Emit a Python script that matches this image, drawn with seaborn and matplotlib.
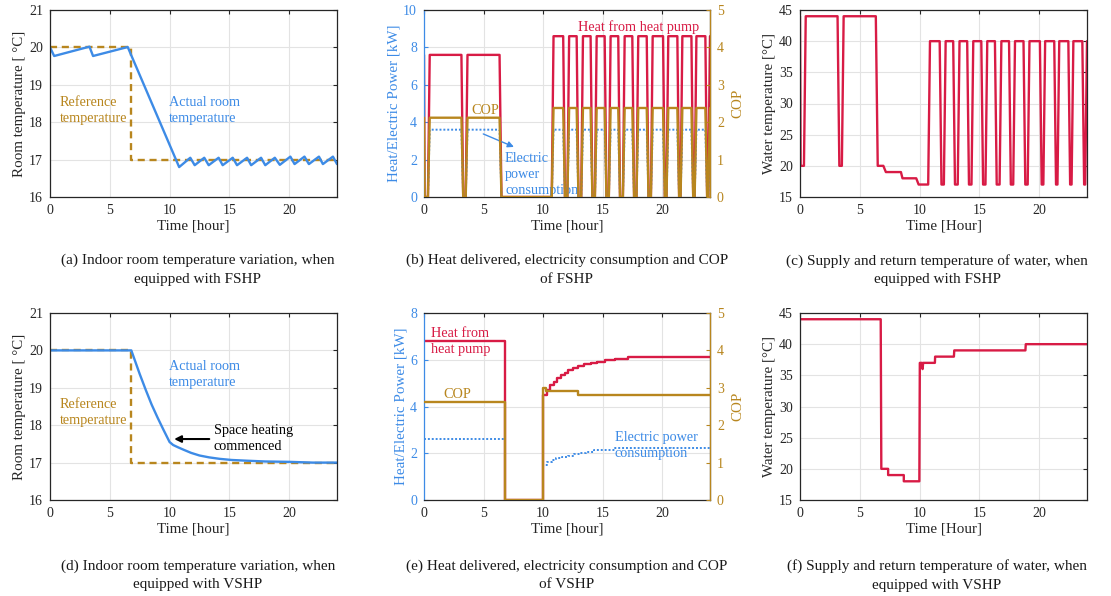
import matplotlib
matplotlib.use("Agg")
import matplotlib.pyplot as plt
import seaborn as sns

# ---------------- data ----------------
hours_ticks = [0, 5, 10, 15, 20]

# (a) FSHP room temperature
t_room_fshp = [0.0, 0.35, 3.3, 3.6, 6.5, 10.8, 11.73, 12.1, 12.9, 13.27, 14.1, 14.44, 15.28, 15.64,
               16.48, 16.82, 17.65, 18.0, 18.8, 19.22, 20.1, 20.45, 21.28, 21.65, 22.49, 22.82,
               23.66, 24.0]
v_room_fshp = [20.0, 19.77, 20.02, 19.77, 20.01, 16.8, 17.05, 16.85, 17.05, 16.85, 17.05, 16.85,
               17.05, 16.85, 17.05, 16.85, 17.05, 16.85, 17.05, 16.86, 17.08, 16.88, 17.08, 16.88,
               17.08, 16.88, 17.08, 16.88]
t_ref = [0.0, 6.75, 6.75, 24.0]
v_ref = [20.0, 20.0, 17.0, 17.0]

# (b)/(c) FSHP time base (corner points)
t_fshp = [0.0, 0.05, 0.33, 0.48, 3.14, 3.29, 3.5, 3.65, 6.34, 6.5, 6.97, 7.18, 8.44, 8.57,
          9.72, 9.92, 10.72, 10.87,
          11.68, 11.83, 12.03, 12.18,
          12.81, 12.96, 13.19, 13.34,
          13.98, 14.13, 14.34, 14.49,
          15.16, 15.31, 15.51, 15.66,
          16.30, 16.45, 16.69, 16.84,
          17.48, 17.63, 17.83, 17.98,
          18.69, 18.84, 19.04, 19.19,
          20.06, 20.21, 20.35, 20.50,
          21.26, 21.41, 21.53, 21.68,
          22.44, 22.59, 22.71, 22.86,
          23.61, 23.76, 23.85, 24.0]
heat_fshp = [7.6, 0, 0, 7.6, 7.6, 0, 0, 7.6, 7.6, 0, 0, 0, 0, 0, 0, 0, 0, 8.6] + \
            [8.6, 0, 0, 8.6] * 11
cop_fshp = [2.12, 0, 0, 2.12, 2.12, 0, 0, 2.12, 2.12, 0, 0, 0, 0, 0, 0, 0, 0, 2.38] + \
           [2.38, 0, 0, 2.38] * 11
elec_fshp = [3.6, 0, 0, 3.6, 3.6, 0, 0, 3.6, 3.6, 0, 0, 0, 0, 0, 0, 0, 0, 3.6] + \
            [3.6, 0, 0, 3.6] * 11
water_fshp = [44, 20, 20, 44, 44, 20, 20, 44, 44, 20, 20, 19, 19, 18, 18, 17, 17, 40] + \
             [40, 17, 17, 40] * 11

# (d) VSHP room temperature
t_room_vshp = [0.0, 6.8, 7.0, 7.5, 8.0, 8.5, 9.0, 9.5, 10.0, 10.3, 10.7, 11.2, 11.8, 12.5, 13.3,
               14.2, 15.2, 16.5, 18.0, 20.0, 22.0, 24.0]
v_room_vshp = [20.0, 20.0, 19.82, 19.37, 18.95, 18.55, 18.2, 17.87, 17.55, 17.47, 17.41, 17.34,
               17.26, 17.19, 17.14, 17.1, 17.07, 17.05, 17.03, 17.02, 17.0, 17.0]

# (e) VSHP heat / COP / electric power (step values)
t_heat_vshp = [0.0, 6.78, 10.02, 10.3, 10.6, 10.9, 11.2, 11.5, 11.8, 12.1, 12.5, 12.9, 13.4,
               14.0, 14.5, 15.2, 16.0, 17.1, 24.0]
heat_vshp = [6.8, 0.0, 4.5, 4.7, 4.9, 5.05, 5.2, 5.33, 5.45, 5.55, 5.63, 5.72, 5.8, 5.87, 5.9,
             5.97, 6.02, 6.1, 6.1]
t_cop_vshp = [0.0, 6.78, 10.02, 10.2, 12.95, 24.0]
cop_vshp = [2.61, 0.0, 3.0, 2.92, 2.8, 2.8]
t_elec_vshp = [0.0, 6.78, 10.02, 10.3, 10.7, 11.1, 11.6, 12.1, 12.6, 13.1, 13.6, 14.3, 16.0, 24.0]
elec_vshp = [2.62, 0.0, 1.5, 1.62, 1.72, 1.8, 1.85, 1.9, 1.95, 2.0, 2.07, 2.12, 2.22, 2.22]

# (f) VSHP water temperature
t_water_vshp = [0.0, 6.75, 6.8, 7.37, 7.37, 8.68, 8.68, 9.98, 10.02, 10.2, 10.25, 10.3, 11.28,
                11.3, 12.87, 12.9, 18.85, 18.88, 24.0]
water_vshp = [44, 44, 20, 20, 19, 19, 18, 18, 37, 37, 36, 37, 37, 38, 38, 39, 39, 40, 40]

captions = [
    "(a) Indoor room temperature variation, when\nequipped with FSHP",
    "(b) Heat delivered, electricity consumption and COP\nof FSHP",
    "(c) Supply and return temperature of water, when\nequipped with FSHP",
    "(d) Indoor room temperature variation, when\nequipped with VSHP",
    "(e) Heat delivered, electricity consumption and COP\nof VSHP",
    "(f) Supply and return temperature of water, when\nequipped with VSHP",
]

# ---------------- style ----------------
BLUE = "#3D8BE6"
GOLD = "#B8861E"
RED = "#D81B45"
GRID = "#E3E3E3"

sns.set_theme(style="whitegrid", rc={
    "axes.edgecolor": "#262626", "axes.linewidth": 0.9, "grid.color": GRID,
    "grid.linewidth": 0.8, "xtick.direction": "in", "ytick.direction": "in",
    "xtick.major.size": 3, "ytick.major.size": 3, "xtick.major.width": 0.8,
    "ytick.major.width": 0.8, "xtick.color": "#262626", "ytick.color": "#262626",
    "axes.labelcolor": "#262626", "text.color": "#262626",
})
plt.rcParams["font.family"] = ["Liberation Serif", "DejaVu Serif"]

W, H = 1111, 596
fig = plt.figure(figsize=(W / 100, H / 100), dpi=100)

LABEL_FS = 10.8
TICK_FS = 10
FS = 10.3
LW = 1.7
LS = 1.3


def add_ax(x0, y0, x1, y1):
    return fig.add_axes([x0 / W, 1 - y1 / H, (x1 - x0) / W, (y1 - y0) / H])


def line(ax, t, v, **kw):
    sns.lineplot(x=t, y=v, ax=ax, estimator=None, sort=False, legend=False, **kw)


def style(ax, ylim, yticks, ylabel, xlabel="Time [hour]"):
    ax.set_xlim(0, 24)
    ax.set_ylim(*ylim)
    ax.set_xticks(hours_ticks)
    ax.set_yticks(yticks)
    ax.set_xlabel(xlabel, fontsize=LABEL_FS, labelpad=2)
    ax.set_ylabel(ylabel, fontsize=LABEL_FS, labelpad=2)
    ax.tick_params(labelsize=TICK_FS, top=True, right=True, pad=5)
    for s in ax.spines.values():
        s.set_visible(True)
        s.set_color("#262626")
    ax.grid(True, color=GRID, lw=0.8)


def twin_cop(ax):
    ax2 = ax.twinx()
    ax2.set_ylim(0, 5)
    ax2.set_yticks([0, 1, 2, 3, 4, 5])
    ax2.grid(False)
    ax2.set_ylabel("COP", color=GOLD, fontsize=LABEL_FS, labelpad=5)
    ax2.tick_params(axis="y", colors=GOLD, direction="in", labelsize=TICK_FS, pad=5)
    for k, s in ax2.spines.items():
        s.set_visible(k == "right")
    ax2.spines["right"].set_color(GOLD)
    return ax2


def blue_left(ax):
    ax.tick_params(axis="y", colors=BLUE, right=False)
    ax.yaxis.label.set_color(BLUE)
    ax.spines["left"].set_color(BLUE)


# (a)
ax = add_ax(50, 10, 337, 197)
line(ax, t_ref, v_ref, color=GOLD, lw=LW, linestyle=(0, (3, 2)))
line(ax, t_room_fshp, v_room_fshp, color=BLUE, lw=LW)
style(ax, (16, 21), [16, 17, 18, 19, 20, 21], "Room temperature [ °C]")
ax.text(0.84, 18.32, "Reference\ntemperature", color=GOLD, fontsize=FS, va="center", linespacing=LS)
ax.text(9.97, 18.32, "Actual room\ntemperature", color=BLUE, fontsize=FS, va="center", linespacing=LS)

# (b)
ax = add_ax(424, 10, 710, 197)
line(ax, t_fshp, heat_fshp, color=RED, lw=LW)
line(ax, t_fshp, elec_fshp, color=BLUE, lw=1.4, linestyle=(0, (1, 1)))
style(ax, (0, 10), [0, 2, 4, 6, 8, 10], "Heat/Electric Power [kW]")
blue_left(ax)
ax2 = twin_cop(ax)
line(ax2, t_fshp, cop_fshp, color=GOLD, lw=LW)
ax2.set_ylim(0, 5)
ax.text(12.9, 9.1, "Heat from heat pump", color=RED, fontsize=FS, va="center")
ax.text(4.0, 4.64, "COP", color=GOLD, fontsize=FS, va="center")
ax.text(6.8, 1.2, "Electric\npower\nconsumption", color=BLUE, fontsize=FS, va="center", linespacing=LS)
ax.annotate("", xy=(7.76, 2.62), xytext=(4.76, 3.43),
            arrowprops=dict(arrowstyle="-|>", color=BLUE, lw=1.0, mutation_scale=9))

# (c)
ax = add_ax(800, 10, 1087, 197)
line(ax, t_fshp, water_fshp, color=RED, lw=LW)
style(ax, (15, 45), [15, 20, 25, 30, 35, 40, 45], "Water temperature [°C]", "Time [Hour]")

# (d)
ax = add_ax(50, 313, 337, 500)
line(ax, t_ref, v_ref, color=GOLD, lw=LW, linestyle=(0, (3, 2)))
line(ax, t_room_vshp, v_room_vshp, color=BLUE, lw=LW)
style(ax, (16, 21), [16, 17, 18, 19, 20, 21], "Room temperature [ °C]")
ax.text(0.84, 18.33, "Reference\ntemperature", color=GOLD, fontsize=FS, va="center", linespacing=LS)
ax.text(9.97, 19.36, "Actual room\ntemperature", color=BLUE, fontsize=FS, va="center", linespacing=LS)
ax.text(13.7, 17.64, "Space heating\ncommenced", color="black", fontsize=FS, va="center", linespacing=LS)
ax.annotate("", xy=(10.15, 17.63), xytext=(13.55, 17.63),
            arrowprops=dict(arrowstyle="-|>", color="black", lw=1.5, mutation_scale=10))

# (e)
ax = add_ax(424, 313, 710, 500)
line(ax, t_heat_vshp, heat_vshp, color=RED, lw=LW, drawstyle="steps-post")
line(ax, t_elec_vshp, elec_vshp, color=BLUE, lw=1.4, linestyle=(0, (1, 1)), drawstyle="steps-post")
style(ax, (0, 8), [0, 2, 4, 6, 8], "Heat/Electric Power [kW]")
blue_left(ax)
ax2 = twin_cop(ax)
line(ax2, t_cop_vshp, cop_vshp, color=GOLD, lw=LW, drawstyle="steps-post")
ax2.set_ylim(0, 5)
ax.text(0.62, 6.8, "Heat from\nheat pump", color=RED, fontsize=FS, va="center", linespacing=LS)
ax.text(1.65, 4.51, "COP", color=GOLD, fontsize=FS, va="center")
ax.text(16.0, 2.32, "Electric power\nconsumption", color=BLUE, fontsize=FS, va="center", linespacing=LS)

# (f)
ax = add_ax(800, 313, 1087, 500)
line(ax, t_water_vshp, water_vshp, color=RED, lw=LW)
style(ax, (15, 45), [15, 20, 25, 30, 35, 40, 45], "Water temperature [°C]", "Time [Hour]")

# captions
cap_x = [198, 567, 937]
for i, cap in enumerate(captions):
    cy = 270 if i < 3 else 575.5
    fig.text(cap_x[i % 3] / W, 1 - cy / H, cap, ha="center", va="center",
             fontsize=11, linespacing=1.55, color="#1a1a1a")

fig.savefig("out.png", dpi=100)
